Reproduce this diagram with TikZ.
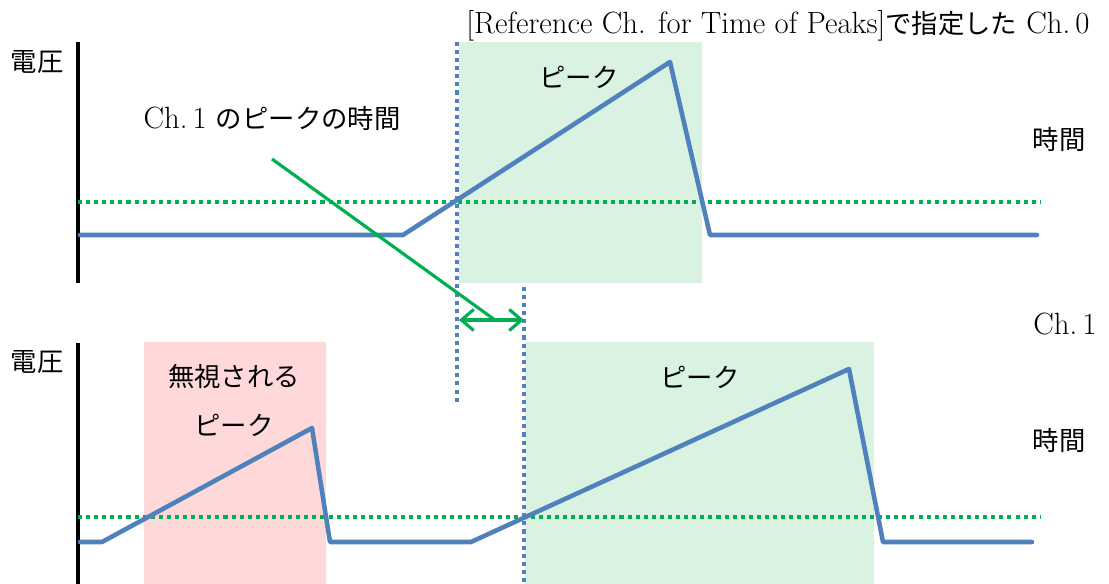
\documentclass[tikz,border=0pt]{standalone}
\usepackage{fontspec}
\newfontfamily\jp{Noto Sans CJK JP}
\usepackage{tikz}
\usetikzlibrary{arrows.meta}
\usepackage{xcolor}
\definecolor{sigblue}{RGB}{79,129,189}
\definecolor{markgreen}{RGB}{0,176,80}
\definecolor{peakfill}{RGB}{217,242,226}
\definecolor{skipfill}{RGB}{255,217,217}
\newcommand{\jptext}{\fontsize{15}{18}\selectfont\jp}
\tikzset{
  axisline/.style={line width=2pt},
  signal/.style={sigblue, line width=2.6pt, line join=round, line cap=round},
  level/.style={markgreen, line width=1.8pt, dash pattern=on 2.3pt off 2.3pt},
  timeline/.style={sigblue, line width=1.8pt, dash pattern=on 2.3pt off 2.3pt},
  txt/.style={font=\fontsize{17.5}{20}\selectfont, inner sep=0pt},
  jtxt/.style={font=\jptext, inner sep=0pt},
}

\begin{document}
\begin{tikzpicture}[x=0.02cm, y=-0.02cm]
  \useasboundingbox (0,0) rectangle (1109,584);

  % Peak windows
  \fill[peakfill] (459,42) rectangle (702,283);
  \fill[peakfill] (525,342) rectangle (874,584);
  \fill[skipfill] (144,342) rectangle (326,584);

  % Axes
  \draw[axisline] (78,42) -- (78,283);
  \draw[axisline] (78,343) -- (78,584);
  \node[jtxt] (volt0) at (37,62) {電圧};
  \node[jtxt] (volt1) at (37,362) {電圧};
  \node[jtxt] (time0) at (1059,139) {時間};
  \node[jtxt] (time1) at (1059,440) {時間};

  % Thresholds
  \draw[level] (78,202) -- (1041,202);
  \draw[level] (78,517) -- (1041,517);

  % Ch. 0 signal
  \draw[signal] (80,235) -- (403,235) -- (670,62) -- (710,235) -- (1037,235);
  % Ch. 1 signal
  \draw[signal] (80,542) -- (102,542) -- (312,428) -- (330,542) -- (471,542)
    -- (849,369) -- (883,542) -- (1032,542);

  % Peak times
  \draw[timeline] (457,42) -- (457,402);
  \draw[timeline] (524,287) -- (524,584);

  % Labels
  \node[txt] (ref) at (778,26) {[Reference Ch. for Time of Peaks]{\jptext で指定した} Ch.\,0};
  \node[txt] (ch1) at (1065,324) {Ch.\,1};
  \node[jtxt] (peak0) at (579,77) {ピーク};
  \node[jtxt] (peak1) at (700,377) {ピーク};
  \node[jtxt] (skip) at (234,377) {無視される};
  \node[jtxt] (skippeak) at (234,425) {ピーク};
  \node[txt] (ch1time) at (272,118) {Ch.\,1 {\jptext のピークの時間}};

  % Delay
  \coordinate (from) at (272,159);
  \coordinate (dl) at (459,320);
  \coordinate (dr) at (524,320);
  \coordinate (to) at (495,320);
  \draw[markgreen, line width=1.8pt] (from) -- (to);
  \draw[markgreen, line width=1.8pt, {Straight Barb[length=7pt,width=12pt]}-{Straight Barb[length=7pt,width=12pt]}] (dl) -- (dr);

\end{tikzpicture}
\end{document}
